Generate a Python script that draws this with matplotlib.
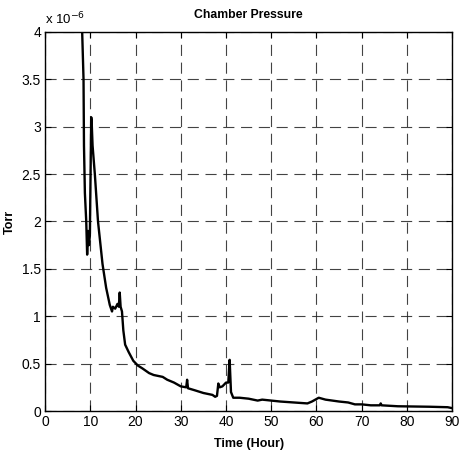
import matplotlib
matplotlib.use("Agg")
import matplotlib.pyplot as plt
from matplotlib.ticker import FormatStrFormatter

# time in hours, pressure in units of 1e-6 Torr
time_hr = [8.1, 8.2, 8.5, 8.6, 8.8, 9.1, 9.3, 9.5, 9.7, 9.9, 10.2, 10.3, 10.5,
           11.0, 11.7, 12.7, 13.5, 14.3, 14.8, 15.0, 15.5, 16.0, 16.3, 16.5,
           16.7, 17.0, 17.3, 17.7, 18.5, 19.5, 20.5, 21.5, 23.0, 24.0, 25.0,
           26.0, 27.0, 28.5, 30.0, 31.2, 31.4, 31.6, 33.0, 35.0, 37.0, 37.6,
           38.0, 38.3, 38.6, 39.2, 40.0, 40.5, 40.8, 41.1, 41.6, 43.0, 45.0,
           47.0, 48.0, 50.0, 52.0, 55.0, 58.0, 59.0, 60.5, 62.0, 65.0, 67.0,
           68.5, 70.0, 72.0, 74.0, 74.2, 74.4, 78.0, 85.0, 89.0, 90.0]
pressure = [4.6, 4.0, 3.5, 2.8, 2.3, 2.0, 1.65, 1.9, 1.75, 1.85, 3.1, 3.05, 2.8,
            2.5, 2.0, 1.55, 1.3, 1.12, 1.05, 1.1, 1.08, 1.13, 1.1, 1.25,
            1.1, 1.05, 0.85, 0.7, 0.62, 0.53, 0.48, 0.45, 0.40, 0.38, 0.37,
            0.36, 0.33, 0.30, 0.26, 0.25, 0.33, 0.24, 0.22, 0.19, 0.17, 0.15,
            0.16, 0.29, 0.25, 0.26, 0.30, 0.30, 0.54, 0.2, 0.14, 0.14, 0.13,
            0.11, 0.12, 0.11, 0.10, 0.09, 0.08, 0.10, 0.14, 0.12, 0.10, 0.09,
            0.07, 0.07, 0.06, 0.06, 0.08, 0.06, 0.05, 0.045, 0.04, 0.03]

x_ticks = list(range(0, 91, 10))
y_ticks = [0, 0.5, 1, 1.5, 2, 2.5, 3, 3.5, 4]

plt.rcParams['font.family'] = ['Liberation Sans', 'DejaVu Sans']

fig = plt.figure(figsize=(4.6, 4.54), dpi=100)
ax = fig.add_axes([0.098, 0.0947, 0.885, 0.835])

ax.plot(time_hr, pressure, color='black', linewidth=1.7)

ax.set_xlim(0, 90)
ax.set_ylim(0, 4)
ax.set_xticks(x_ticks)
ax.set_yticks(y_ticks)
ax.yaxis.set_major_formatter(FormatStrFormatter('%g'))
ax.tick_params(direction='in', top=True, right=True, labelsize=10, length=4,
               width=0.8, pad=3)
ax.grid(True, color='#222222', linestyle=(0, (10, 6)), linewidth=0.8,
        alpha=0.85)
for s in ax.spines.values():
    s.set_linewidth(1.0)

ax.set_title('Chamber Pressure', fontsize=8.8, fontweight='bold', pad=10)
ax.set_xlabel('Time (Hour)', fontsize=9, fontweight='bold', labelpad=6)
ax.set_ylabel('Torr', fontsize=9, fontweight='bold')
ax.yaxis.set_label_coords(-0.072, 0.5)
ax.text(0.0, 1.012, 'x 10$^{\\mathrm{-6}}$', transform=ax.transAxes,
        fontsize=9.5, ha='left', va='bottom')

fig.savefig('out.png', dpi=100)
